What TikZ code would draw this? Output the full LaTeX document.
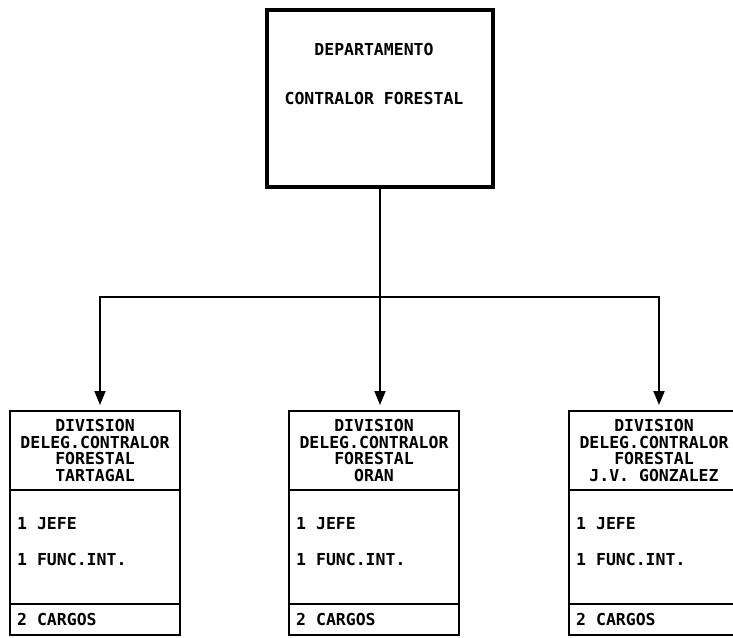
\documentclass[tikz,border=0pt]{standalone}
\usepackage{fontspec}
\usepackage{tikz}
\usetikzlibrary{positioning, arrows.meta}
\newfontfamily\matriz{DejaVu Sans Mono}

\begin{document}
\begin{tikzpicture}[x=1pt, y=-1pt,
  caja/.style={draw, line width=2pt, minimum width=170pt, inner sep=0pt, outer sep=0pt},
  texto/.style={font=\matriz\bfseries\fontsize{16.5}{16.5}\selectfont, inner sep=0pt},
  linea/.style={line width=2pt, line cap=rect},
  flecha/.style={line width=2pt, -{Triangle[length=14pt, width=11pt]}, shorten >=6pt}]
  \useasboundingbox (0,0) rectangle (733,637);

  %departamento
  \node[caja, line width=4pt, minimum width=226pt, minimum height=177pt] (depto) at (380,98.5) {};
  \node[texto] (depto-1) at (374,49) {DEPARTAMENTO};
  \node[texto] (depto-2) at (374,98) {CONTRALOR FORESTAL};

  %divisiones
  \foreach \n/\x/\lugar in {tartagal/95/TARTAGAL, oran/374/ORAN, gonzalez/654/{J.V. GONZALEZ}} {
    \node[caja, texto, align=center, minimum height=79pt] (\n) at (\x,450.5)
      {DIVISION\\DELEG.CONTRALOR\\FORESTAL\\\lugar};
    \node[caja, minimum height=114pt, below=0pt of \n] (\n-cargos) {};
    \node[caja, minimum height=31pt, below=0pt of \n-cargos] (\n-total) {};
    \node[texto, anchor=west] (\n-jefe) at ([shift={(7pt,-34pt)}]\n-cargos.north west) {1 JEFE};
    \node[texto, anchor=west] (\n-func) at ([shift={(7pt,-69pt)}]\n-cargos.north west) {1 FUNC.INT.};
    \node[texto, right=7pt of \n-total.west] (\n-suma) {2 CARGOS};
  }

  % lines
  \coordinate (bus-1) at (100,297);
  \coordinate (bus-2) at (380,297);
  \coordinate (bus-3) at (659,297);
  \draw[linea] (depto.south) -- (bus-2);
  \draw[linea] (bus-1) -- (bus-3);
  \foreach \i/\n in {1/tartagal, 2/oran, 3/gonzalez}
    \draw[flecha] (bus-\i) -- (bus-\i |- \n.north);
\end{tikzpicture}
\end{document}
